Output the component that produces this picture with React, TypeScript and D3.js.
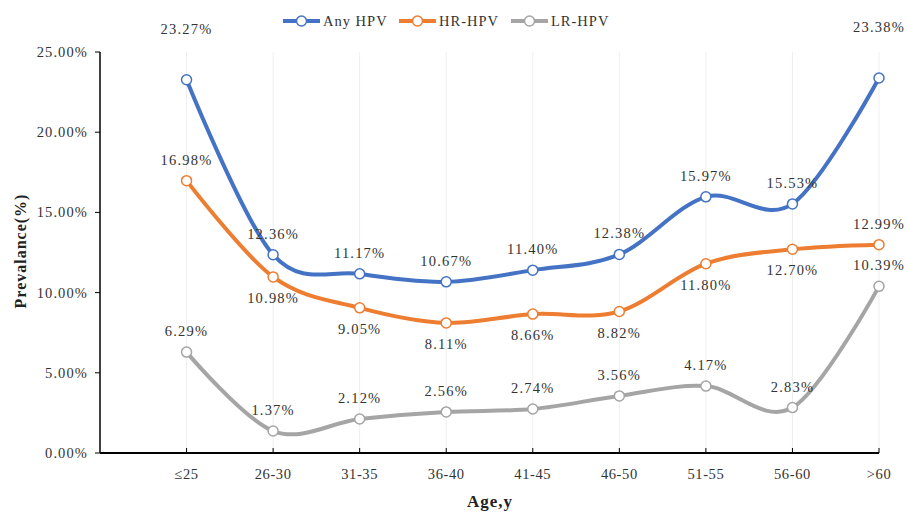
import React from 'react';
import * as d3 from 'd3';

const ages = ['≤25', '26-30', '31-35', '36-40', '41-45', '46-50', '51-55', '56-60', '>60'];
const anyHpv = [23.27, 12.36, 11.17, 10.67, 11.4, 12.38, 15.97, 15.53, 23.38];
const hrHpv = [16.98, 10.98, 9.05, 8.11, 8.66, 8.82, 11.8, 12.7, 12.99];
const lrHpv = [6.29, 1.37, 2.12, 2.56, 2.74, 3.56, 4.17, 2.83, 10.39];
const yTicks = [0, 5, 10, 15, 20, 25];

// label placement per point: 'a' above, 'b' below, 't' high above (moved up in original)
const anyPlace = ['t', 'a', 'a', 'a', 'a', 'a', 'a', 'a', 't'];
const hrPlace = ['a', 'b', 'b', 'b', 'b', 'b', 'b', 'b', 'a'];
const lrPlace = ['a', 'a', 'a', 'a', 'a', 'a', 'a', 'a', 'a'];

const series = [
  { name: 'Any HPV', values: anyHpv, color: '#4472C4', place: anyPlace },
  { name: 'HR-HPV', values: hrHpv, color: '#ED7D31', place: hrPlace },
  { name: 'LR-HPV', values: lrHpv, color: '#A5A5A5', place: lrPlace },
];

const W = 907;
const H = 512;
const font = '"Liberation Serif", "DejaVu Serif", serif';

export default function App() {
  // blank first slot so the first age sits one step right of the y axis
  const x = d3.scalePoint<string>().domain(['', ...ages]).range([100, 879]);
  const y = d3.scaleLinear().domain([0, 25]).range([453, 52]);
  const line = d3
    .line<number>()
    .x((_, i) => x(ages[i]) as number)
    .y((d) => y(d))
    .curve(d3.curveCardinal.tension(0));

  const fmt = (v: number) => v.toFixed(2) + '%';
  const dyFor = (p: string) => (p === 't' ? -51 : p === 'a' ? -21 : 21);

  const legendX = [283, 399, 511];

  return (
    <svg
      width={W}
      height={H}
      style={{ position: 'absolute', left: 0, top: 0, background: '#fff' }}
      fontFamily={font}
    >
      {/* vertical gridlines */}
      {ages.map((a) => (
        <line key={a} x1={x(a)} x2={x(a)} y1={52} y2={453} stroke="#efefef" strokeWidth={1} />
      ))}

      {/* y axis */}
      <line x1={100} x2={100} y1={52} y2={453} stroke="#000" strokeWidth={1.5} />
      {yTicks.map((t) => (
        <g key={t}>
          <line x1={95} x2={100} y1={y(t)} y2={y(t)} stroke="#000" strokeWidth={1} />
          <text
            x={88}
            y={y(t)}
            dy="0.35em"
            textAnchor="end"
            fontSize={14.5}
            letterSpacing={1.1}
            fill="#333"
          >
            {t.toFixed(2) + '%'}
          </text>
        </g>
      ))}

      {/* x axis */}
      <line x1={100} x2={879} y1={453} y2={453} stroke="#000" strokeWidth={1.8} />
      {ages.map((a) => (
        <g key={a}>
          <line x1={x(a)} x2={x(a)} y1={448} y2={453} stroke="#000" strokeWidth={1} />
          <text x={x(a)} y={479} textAnchor="middle" fontSize={14.5} letterSpacing={0.6} fill="#333">
            {a}
          </text>
        </g>
      ))}

      <text x={490} y={507} textAnchor="middle" fontSize={17} letterSpacing={1} fontWeight="bold" fill="#222">
        Age,y
      </text>
      <text
        transform={`translate(26,${251}) rotate(-90)`}
        textAnchor="middle"
        fontSize={16}
        letterSpacing={1}
        fontWeight="bold"
        fill="#222"
      >
        Prevalance(%)
      </text>

      {/* lines */}
      {series.map((s) => (
        <path key={s.name} d={line(s.values) || ''} fill="none" stroke={s.color} strokeWidth={4} />
      ))}
      {series.map((s) =>
        s.values.map((v, i) => (
          <circle
            key={s.name + i}
            cx={x(ages[i])}
            cy={y(v)}
            r={5}
            fill="#fff"
            stroke={s.color}
            strokeWidth={1.5}
          />
        ))
      )}
      {series.map((s) =>
        s.values.map((v, i) => (
          <text
            key={'l' + s.name + i}
            x={x(ages[i])}
            y={y(v) + dyFor(s.place[i])}
            dy="0.35em"
            textAnchor="middle"
            fontSize={14.5}
            letterSpacing={1.2}
            fill="#333"
          >
            {fmt(v)}
          </text>
        ))
      )}

      {/* legend */}
      {series.map((s, i) => (
        <g key={'lg' + s.name} transform={`translate(${legendX[i]},21)`}>
          <line x1={0} x2={37} y1={0} y2={0} stroke={s.color} strokeWidth={4} />
          <circle cx={18.5} cy={0} r={5} fill="#fff" stroke={s.color} strokeWidth={1.5} />
          <text x={40} y={0} dy="0.35em" fontSize={14.5} letterSpacing={1} fill="#333">
            {s.name}
          </text>
        </g>
      ))}
    </svg>
  );
}
